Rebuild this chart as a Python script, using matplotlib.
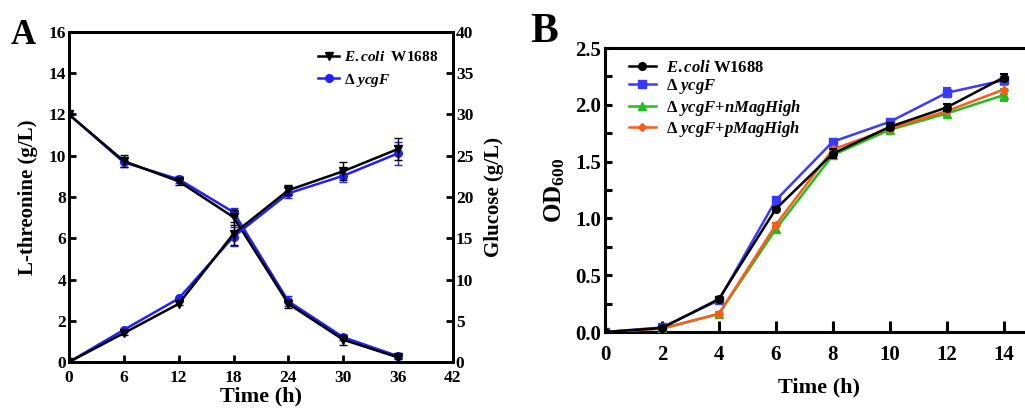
import matplotlib
matplotlib.use("Agg")
import matplotlib.pyplot as plt
from matplotlib.ticker import MultipleLocator, FormatStrFormatter

plt.rcParams['font.family'] = ['Liberation Serif', 'DejaVu Serif']
plt.rcParams['font.weight'] = 'bold'
plt.rcParams['mathtext.fontset'] = 'custom'
plt.rcParams['mathtext.rm'] = 'Liberation Serif:bold'
plt.rcParams['mathtext.it'] = 'Liberation Serif:italic:bold'
plt.rcParams['mathtext.bf'] = 'Liberation Serif:bold'

# ---------------- Panel A data ----------------
time_a = [0, 6, 12, 18, 24, 30, 36]
thr_wt = [0.0, 1.40, 2.82, 6.22, 8.33, 9.25, 10.33]
thr_wt_err = [0.0, 0.08, 0.08, 0.55, 0.25, 0.45, 0.55]
thr_mut = [0.0, 1.56, 3.08, 6.08, 8.18, 9.03, 10.12]
thr_mut_err = [0.0, 0.06, 0.08, 0.45, 0.25, 0.30, 0.55]
glc_wt = [30.0, 24.35, 21.9, 17.55, 7.05, 2.7, 0.55]
glc_wt_err = [0.0, 0.7, 0.4, 0.9, 0.5, 0.6, 0.2]
glc_mut = [30.0, 24.2, 22.15, 18.15, 7.35, 3.0, 0.7]
glc_mut_err = [0.0, 0.6, 0.4, 0.5, 0.6, 0.3, 0.2]

# ---------------- Panel B data ----------------
time_b = [0, 2, 4, 6, 8, 10, 12, 14]
od_wt = [0.0, 0.035, 0.29, 1.083, 1.57, 1.806, 1.976, 2.24]
od_wt_err = [0.0, 0.01, 0.02, 0.02, 0.04, 0.03, 0.03, 0.03]
od_mut = [0.0, 0.04, 0.28, 1.16, 1.675, 1.85, 2.105, 2.216]
od_mut_err = [0.0, 0.01, 0.02, 0.02, 0.02, 0.02, 0.04, 0.02]
od_n = [0.0, 0.03, 0.16, 0.905, 1.557, 1.78, 1.923, 2.085]
od_n_err = [0.0, 0.01, 0.02, 0.02, 0.02, 0.03, 0.02, 0.05]
od_p = [0.0, 0.03, 0.16, 0.943, 1.607, 1.79, 1.944, 2.134]
od_p_err = [0.0, 0.01, 0.02, 0.02, 0.02, 0.02, 0.02, 0.04]

W, H = 1025, 415
fig = plt.figure(figsize=(W / 100, H / 100), dpi=100)

def box(l, t, r, b):
    return [l / W, 1 - b / H, (r - l) / W, (b - t) / H]

BLACK = '#000000'
BLUE_A = '#1f1fff'
BLUE_B = '#3a3aff'
GREEN = '#1fbf1f'
ORANGE = '#ff5a1a'

# ---------------- Panel A ----------------
ax = fig.add_axes(box(69, 32, 453, 362))
ax2 = ax.twinx()
ax.set_xlim(0, 42)
ax.set_ylim(0, 16)
ax2.set_ylim(0, 40)

ek = dict(capsize=3, elinewidth=1.0, capthick=1.0, linewidth=1.8, markersize=5.5)
# Glucose (right axis)
ax2.errorbar(time_a, glc_wt, yerr=glc_wt_err, color=BLACK, marker='v', zorder=4, **ek)
ax2.errorbar(time_a, glc_mut, yerr=glc_mut_err, color=BLUE_A, marker='o', zorder=3, **ek)
# Threonine (left axis)
h1 = ax.errorbar(time_a, thr_wt, yerr=thr_wt_err, color=BLACK, marker='v', zorder=4, **ek)
h2 = ax.errorbar(time_a, thr_mut, yerr=thr_mut_err, color=BLUE_A, marker='o', zorder=3, **ek)
ax.set_zorder(ax2.get_zorder() + 1)
ax.patch.set_visible(False)

ax.set_xticks([0, 6, 12, 18, 24, 30, 36, 42])
ax.set_yticks(range(0, 17, 2))
ax2.set_yticks(range(0, 41, 5))
for a in (ax, ax2):
    for s in a.spines.values():
        s.set_linewidth(2.0)
    a.tick_params(direction='in', length=5, width=2.0, labelsize=12.5, pad=2)
ax.tick_params(axis='x', pad=6)
ax.set_xlabel('Time (h)', fontsize=16, fontweight='bold', labelpad=0)
ax.set_ylabel('L-threonine (g/L)', fontsize=15, fontweight='bold', labelpad=8)
ax2.set_ylabel('Glucose (g/L)', fontsize=15, fontweight='bold', labelpad=8)
ax.legend([h1[0], h2[0]], [r'$\mathit{E.coli}$  W1688', r'Δ $\mathit{ycgF}$'],
          loc='upper left', bbox_to_anchor=((318 - 69) / 384, (362 - 50) / 330),
          borderaxespad=0, borderpad=0, frameon=False,
          fontsize=11, handlelength=1.4, handletextpad=0.3, labelspacing=0.5)
fig.text(11 / W, 1 - 44 / H, 'A', fontsize=25, fontweight='bold', va='baseline')

# ---------------- Panel B ----------------
bx = fig.add_axes(box(605, 48, 1032, 332))
bx.set_xlim(0, 15)
bx.set_ylim(0, 2.5)
ekb = dict(capsize=3, elinewidth=1.5, capthick=1.5, linewidth=1.8, markersize=5.5)
g1 = bx.errorbar(time_b, od_mut, yerr=od_mut_err, color=BLUE_B, marker='s', zorder=3, **ekb)
g2 = bx.errorbar(time_b, od_n, yerr=od_n_err, color=GREEN, marker='^', zorder=3, **ekb)
g3 = bx.errorbar(time_b, od_p, yerr=od_p_err, color=ORANGE, marker='D', zorder=3,
                 **{**ekb, 'markersize': 4.5})
g0 = bx.errorbar(time_b, od_wt, yerr=od_wt_err, color=BLACK, marker='o', zorder=4, **ekb)
bx.set_xticks(range(0, 15, 2))
bx.yaxis.set_major_locator(MultipleLocator(0.5))
bx.yaxis.set_minor_locator(MultipleLocator(0.25))
bx.yaxis.set_major_formatter(FormatStrFormatter('%.1f'))
bx.spines['right'].set_visible(False)
for s in bx.spines.values():
    s.set_linewidth(2.2)
bx.tick_params(axis='x', which='both', direction='in', length=8, width=2.2, labelsize=15, pad=9)
bx.tick_params(axis='y', which='both', direction='in', length=5, width=2.2, labelsize=15, pad=3)
bx.set_xlabel('Time (h)', fontsize=16, fontweight='bold', labelpad=9)
bx.set_ylabel(r'OD$_{600}$', fontsize=18, fontweight='bold', labelpad=6)
bx.legend([g0[0], g1[0], g2[0], g3[0]],
          [r'$\mathit{E.coli}$ W1688', r'Δ $\mathit{ycgF}$',
           r'Δ $\mathit{ycgF{+}nMagHigh}$', r'Δ $\mathit{ycgF{+}pMagHigh}$'],
          loc='upper left', bbox_to_anchor=((629 - 605) / 427, (332 - 60) / 284),
          borderaxespad=0, borderpad=0, frameon=False,
          fontsize=12, handlelength=1.6, handletextpad=0.6, labelspacing=0.08)
fig.text(530 / W, 1 - 42 / H, 'B', fontsize=30, fontweight='bold', va='baseline')

fig.savefig('out.png', dpi=100)
